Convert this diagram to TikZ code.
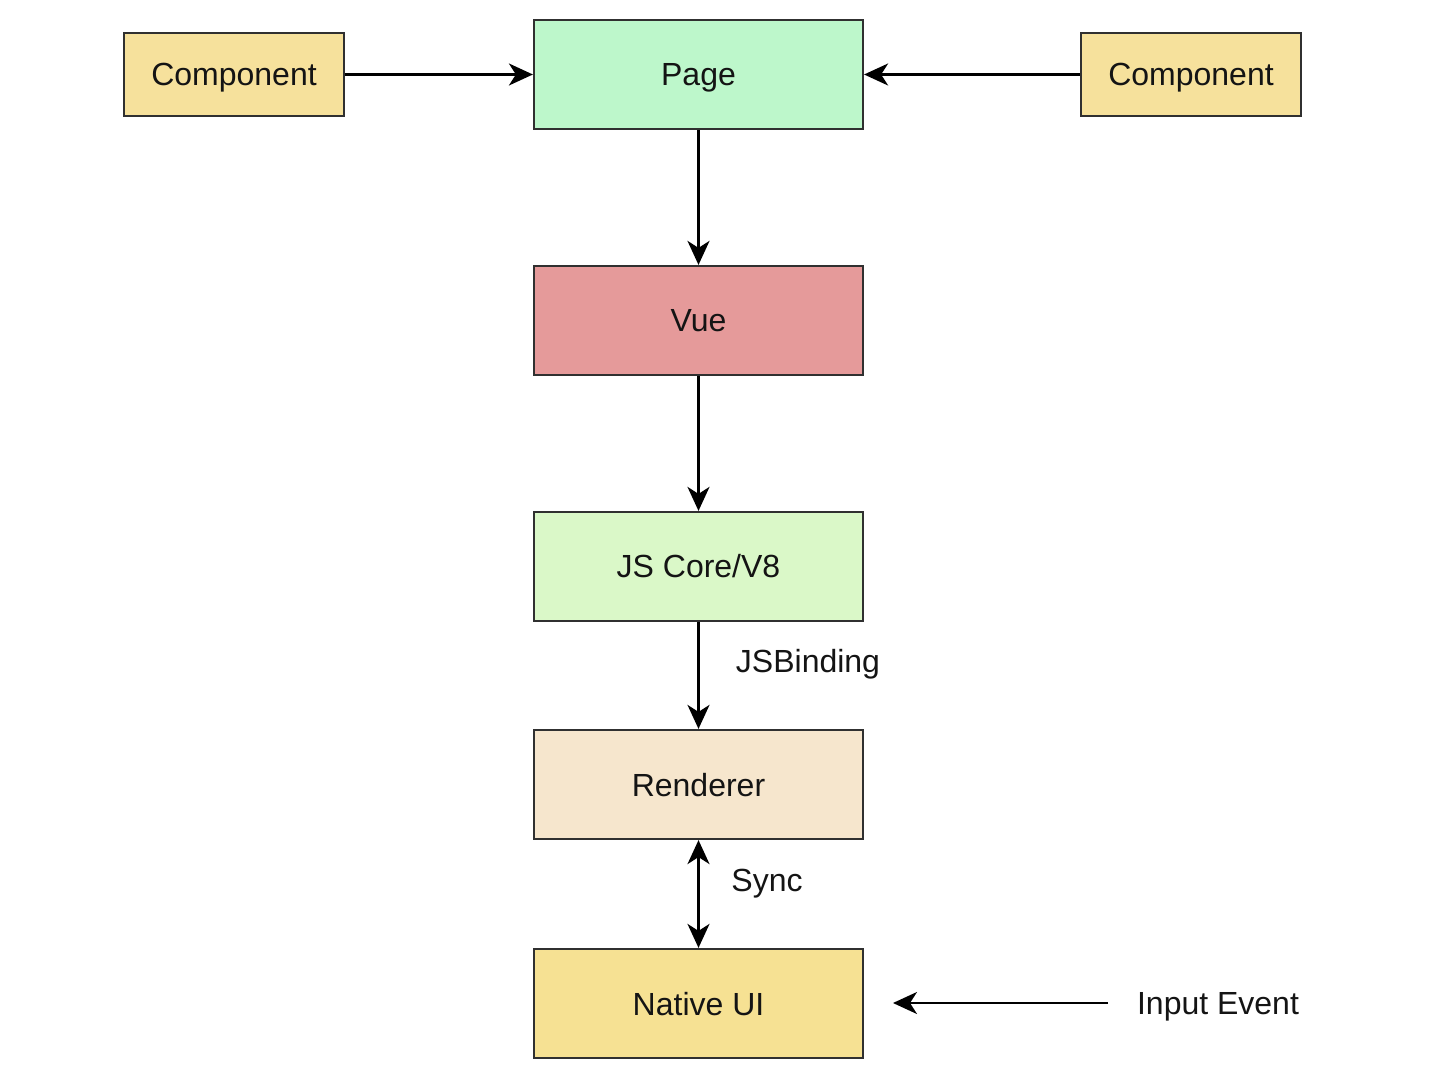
\documentclass[tikz,border=0pt]{standalone}
\usepackage{fontspec}
\setmainfont{Liberation Sans}
\usetikzlibrary{arrows.meta}
\definecolor{compy}{HTML}{F6E19C}
\definecolor{pageg}{HTML}{BDF7CB}
\definecolor{vuer}{HTML}{E59A9A}
\definecolor{jsg}{HTML}{DAF8C8}
\definecolor{rendc}{HTML}{F6E6CD}
\definecolor{natY}{HTML}{F6E193}
\definecolor{edge}{HTML}{303030}
\begin{document}
\begin{tikzpicture}[x=0.5pt,y=-0.5pt,
  box/.style={draw=edge,line width=1.1pt,inner sep=0pt,font=\fontsize{16}{19}\selectfont,text=black!92,text height=11.5pt,text depth=0pt},
  big/.style={box,minimum width=164.5pt,minimum height=54.5pt},
  small/.style={box,minimum width=110pt,minimum height=41.5pt},
  tip/.style={},
  arr/.style={line width=1.1pt,-{Stealth[length=12pt,width=11pt,inset=3.5pt]}},
  darr/.style={line width=1.1pt,{Stealth[length=12pt,width=11pt,inset=3.5pt]}-{Stealth[length=12pt,width=11pt,inset=3.5pt]}},
  lbl/.style={font=\fontsize{16}{19}\selectfont,text=black!92,text height=11.5pt,text depth=0pt,inner sep=0pt}]
\useasboundingbox[fill=white] (0,0) rectangle (1440,1079);
\node[small,fill=compy] (compL) at (234,74.5) {Component};
\node[big,fill=pageg] (page) at (698.5,74.5) {Page};
\node[small,fill=compy] (compR) at (1191,74.5) {Component};
\node[big,fill=vuer] (vue) at (698.5,320.5) {Vue};
\node[big,fill=jsg] (js) at (698.5,566.5) {JS Core/V8};
\node[big,fill=rendc] (rend) at (698.5,784.5) {Renderer};
\node[big,fill=natY] (native) at (698.5,1003.5) {Native UI};
\node[lbl] (inp) at (1218,1003) {Input Event};
\node[lbl] (jsb) at (808,661) {JSBinding};
\node[lbl] (sync) at (767,880) {Sync};
\coordinate (inA) at (1108,1003);
\coordinate (inB) at (893,1003);
\draw[arr] (compL) -- (page);
\draw[arr] (compR) -- (page);
\draw[arr] (page) -- (vue);
\draw[arr] (vue) -- (js);
\draw[arr] (js) -- (rend);
\draw[darr] (rend) -- (native);
\draw[arr] (inA) -- (inB);
\end{tikzpicture}
\end{document}
